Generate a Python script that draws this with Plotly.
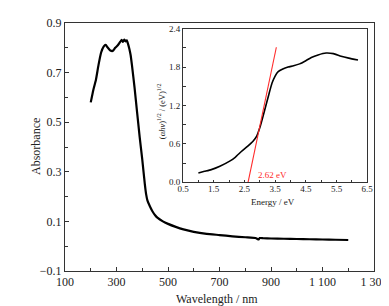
import plotly.graph_objects as go

# Main absorbance spectrum
wavelength = [200, 210, 220, 230, 240, 250, 258, 265, 275, 285, 295, 305, 315, 320, 325, 330, 335, 340,
              345, 350, 355, 360, 370, 380, 390, 400, 405, 410, 415, 420, 430, 440, 450, 460, 480, 500,
              530, 560, 600, 650, 700, 750, 800, 840, 852, 856, 870, 900, 950, 1000, 1050, 1100, 1150, 1200]
absorbance = [0.58, 0.63, 0.67, 0.73, 0.78, 0.805, 0.812, 0.802, 0.79, 0.787, 0.80, 0.81, 0.825, 0.832,
              0.824, 0.833, 0.826, 0.83, 0.815, 0.795, 0.77, 0.73, 0.64, 0.54, 0.44, 0.35, 0.30, 0.25,
              0.21, 0.185, 0.16, 0.14, 0.125, 0.114, 0.10, 0.09, 0.078, 0.068, 0.058, 0.05, 0.045, 0.04,
              0.036, 0.033, 0.027, 0.033, 0.032, 0.031, 0.030, 0.029, 0.028, 0.027, 0.026, 0.025]

# Inset Tauc plot
energy = [1.0, 1.2, 1.42, 1.7, 2.02, 2.2, 2.4, 2.6, 2.78, 2.9, 3.0, 3.1, 3.2, 3.3, 3.4, 3.5, 3.6, 3.75,
          3.92, 4.1, 4.3, 4.5, 4.68, 4.9, 5.16, 5.4, 5.65, 5.9, 6.2]
tauc = [0.145, 0.17, 0.197, 0.25, 0.33, 0.39, 0.48, 0.56, 0.64, 0.72, 0.85, 1.02, 1.2, 1.38, 1.55, 1.66,
        1.73, 1.77, 1.80, 1.82, 1.85, 1.90, 1.95, 1.99, 2.02, 2.01, 1.97, 1.94, 1.91]
fit_x = [2.62, 3.54]
fit_y = [0.0, 2.11]
gap_label = "2.62 eV"

# Ticks (labelled major ticks + unlabelled minor ticks)
x_tickvals = [100, 300, 500, 700, 900, 1100, 1300]
x_ticktext = ["100", "300", "500", "700", "900", "1 100", "1 300"]
x_minor = [200, 400, 600, 800, 1000, 1200]
y_tickvals = [-0.1, 0.1, 0.3, 0.5, 0.7, 0.9]
y_ticktext = ["\u22120.1", "0.1", "0.3", "0.5", "0.7", "0.9"]
y_minor = [0.0, 0.2, 0.4, 0.6, 0.8]
ix_tickvals = [0.5, 1.5, 2.5, 3.5, 4.5, 5.5, 6.5]
ix_ticktext = ["0.5", "1.5", "2.5", "3.5", "4.5", "5.5", "6.5"]
ix_minor = [1.0, 2.0, 3.0, 4.0, 5.0, 6.0]
iy_tickvals = [0.0, 0.6, 1.2, 1.8, 2.4]
iy_ticktext = ["0.0", "0.6", "1.2", "1.8", "2.4"]
iy_minor = [0.3, 0.9, 1.5, 2.1]

FONT = "Liberation Serif, Times New Roman, serif"
FRAME = "#333333"

fig = go.Figure()
fig.add_trace(go.Scatter(x=wavelength, y=absorbance, mode="lines",
                         line=dict(color="black", width=2.2, shape="spline", smoothing=0.4),
                         xaxis="x", yaxis="y", showlegend=False))
fig.add_trace(go.Scatter(x=energy, y=tauc, mode="lines",
                         line=dict(color="black", width=1.6, shape="spline", smoothing=0.5),
                         xaxis="x2", yaxis="y2", showlegend=False))
fig.add_trace(go.Scatter(x=fit_x, y=fit_y, mode="lines",
                         line=dict(color="#ff2a2a", width=1.1),
                         xaxis="x2", yaxis="y2", showlegend=False))

common = dict(ticks="inside", tickcolor=FRAME, showline=True, linecolor=FRAME,
              mirror=True, showgrid=False, zeroline=False, automargin=False)

fig.update_layout(
    width=389, height=306,
    margin=dict(l=57, r=23, t=15, b=43),
    paper_bgcolor="white", plot_bgcolor="white",
    font=dict(family=FONT, size=12, color="#222"),
    xaxis=dict(range=[100, 1300], tickvals=x_tickvals, ticktext=x_ticktext, ticklen=3.5,
               linewidth=1.2, ticklabelstandoff=-1,
               minor=dict(tickvals=x_minor, ticks="inside", ticklen=3, tickcolor=FRAME, showgrid=False),
               tickfont=dict(size=12), domain=[0, 1], **common),
    yaxis=dict(range=[-0.1, 0.9], tickvals=y_tickvals, ticktext=y_ticktext, ticklen=3.5,
               linewidth=1.2,
               minor=dict(tickvals=y_minor, ticks="inside", ticklen=3, tickcolor=FRAME, showgrid=False),
               tickfont=dict(size=12), domain=[0, 1], **common),
    xaxis2=dict(range=[0.5, 6.5], tickvals=ix_tickvals, ticktext=ix_ticktext, ticklen=2.5,
                linewidth=1, ticklabelstandoff=-2,
                minor=dict(tickvals=ix_minor, ticks="inside", ticklen=2.5, tickcolor=FRAME, showgrid=False),
                tickfont=dict(size=9), domain=[0.382, 0.978], anchor="y2", **common),
    yaxis2=dict(range=[0, 2.4], tickvals=iy_tickvals, ticktext=iy_ticktext, ticklen=2.5,
                linewidth=1,
                minor=dict(tickvals=iy_minor, ticks="inside", ticklen=2.5, tickcolor=FRAME, showgrid=False),
                tickfont=dict(size=9), domain=[0.358, 0.977], anchor="x2", **common),
    annotations=[
        dict(x=2.87, y=0.12, xref="x2", yref="y2", text=gap_label, showarrow=False,
             xanchor="left", yanchor="middle", font=dict(size=9, color="#ff2a2a")),
        dict(x=0.492, y=-0.113, xref="paper", yref="paper", text="Wavelength / nm", showarrow=False,
             xanchor="center", yanchor="middle", font=dict(size=12)),
        dict(x=-0.094, y=0.504, xref="paper", yref="paper", text="Absorbance", showarrow=False,
             textangle=-90, xanchor="center", yanchor="middle", font=dict(size=12)),
        dict(x=0.673, y=0.278, xref="paper", yref="paper", text="Energy / eV", showarrow=False,
             xanchor="center", yanchor="middle", font=dict(size=9)),
        dict(x=0.311, y=0.645, xref="paper", yref="paper",
             text="(<i>\u03b1h\u03bd</i>)<sup>1/2</sup> / (eV)<sup>1/2</sup>", showarrow=False,
             textangle=-90, xanchor="center", yanchor="middle", font=dict(size=8.5)),
    ],
)

fig.write_html("out.html")
